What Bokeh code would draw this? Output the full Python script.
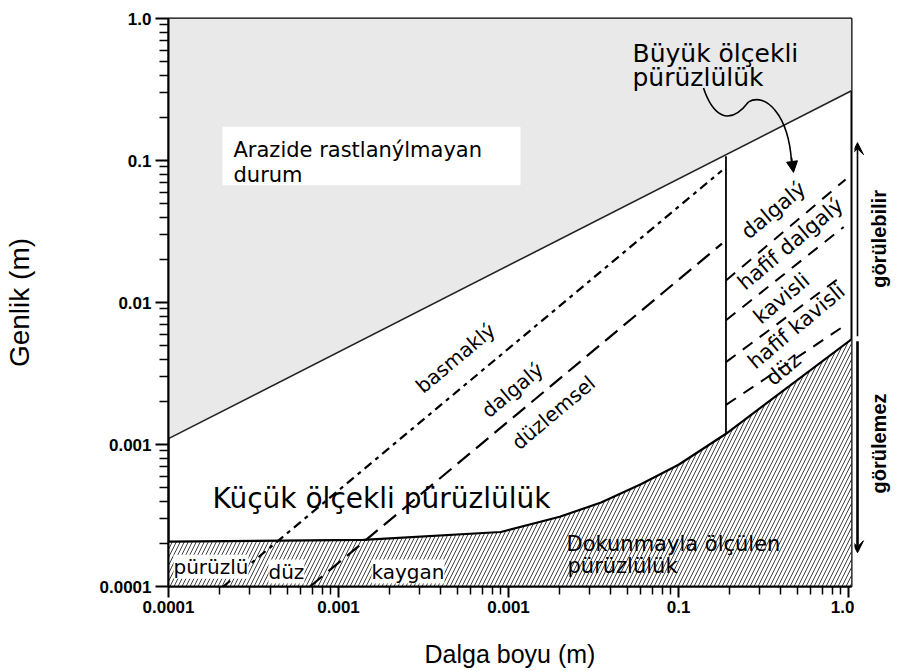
import math
from bokeh.plotting import figure
from bokeh.layouts import row
from bokeh.models import (Range1d, FixedTicker, CustomJSTickFormatter, Label, Arrow,
                          VeeHead, NormalHead, BoxAnnotation)
from bokeh.embed import file_html
from bokeh.resources import INLINE

# ---------------- data ----------------
x_ticks = [1e-4, 1e-3, 1e-2, 1e-1, 1.0]
x_tick_labels = ["0.0001", "0.001", "0.001", "0.1", "1.0"]
y_ticks = [1e-4, 1e-3, 1e-2, 1e-1, 1.0]
y_tick_labels = ["0.0001", "0.001", "0.01", "0.1", "1.0"]

# upper limit (region not met in the field)
limit_x = [1e-4, 1.04]
limit_y = [0.0011, 0.31]

# lower limit (roughness measured by touch)
touch_x = [1e-4, 0.0014, 0.009, 0.02, 0.035, 0.06, 0.1, 0.19, 1.04]
touch_y = [0.000207, 0.000213, 0.000242, 0.00031, 0.00039, 0.000525, 0.00072, 0.00119, 0.0055]

# divider between small and large scale roughness
divider_x = [0.19, 0.19]
divider_y = [0.00119, 0.107]

# small-scale class boundaries
basamakli_x = [0.00021, 0.18]
basamakli_y = [0.0001, 0.085]
dalgali_x = [0.00068, 0.18]
dalgali_y = [0.0001, 0.026]

# large-scale class boundaries
large_x = [[0.19, 0.96], [0.19, 0.935], [0.19, 0.935], [0.19, 0.9]]
large_y = [[0.0143, 0.0736], [0.0075, 0.034], [0.0038, 0.0157], [0.0019, 0.0066]]

# ---------------- layout ----------------
X_START, X_END = 1e-4, 1.04
Y_START, Y_END = 1e-4, 1.0
W, H = 854, 670
BL, BR, BT, BB = 168, 3, 18, 80
FW, FH = W - BL - BR, H - BT - BB
W2 = 900 - W


def px2x(px):
    f = (px - BL) / FW
    return 10 ** (math.log10(X_START) + f * (math.log10(X_END) - math.log10(X_START)))


def py2y(py):
    f = (py - BT) / FH
    return 10 ** (math.log10(Y_END) - f * (math.log10(Y_END) - math.log10(Y_START)))


def px2u(px):
    return (px - W) / W2


p = figure(width=W, height=H, x_axis_type="log", y_axis_type="log",
           x_range=Range1d(X_START, X_END), y_range=Range1d(Y_START, Y_END),
           output_backend="svg", toolbar_location=None,
           min_border_left=BL, min_border_right=BR, min_border_top=BT, min_border_bottom=BB)
p.grid.visible = False
p.outline_line_color = "black"
p.outline_line_width = 2
p.background_fill_color = "white"

minor = [m * 10 ** k for k in range(-4, 0) for m in range(2, 10)]
for ax, ticks, labels in ((p.xaxis[0], x_ticks, x_tick_labels), (p.yaxis[0], y_ticks, y_tick_labels)):
    ax.ticker = FixedTicker(ticks=ticks, minor_ticks=minor)
    ax.formatter = CustomJSTickFormatter(args=dict(labels=labels),
                                         code="return labels[Math.round(Math.log10(tick)) + 4];")
    ax.axis_line_width = 2
    ax.major_tick_line_width = 2
    ax.minor_tick_line_width = 1.5
    ax.major_tick_in = 0
    ax.minor_tick_in = 0
    ax.major_label_text_font = "Liberation Sans"
    ax.major_label_text_font_style = "bold"
    ax.major_label_text_font_size = "17px"
    ax.major_label_text_color = "black"
    ax.axis_label_text_font = "Liberation Sans"
    ax.axis_label_text_font_style = "normal"
    ax.axis_label_text_color = "black"

p.yaxis.major_tick_out = 13
p.yaxis.minor_tick_out = 9
p.yaxis.major_label_standoff = 4
p.yaxis.axis_label = "Genlik (m)"
p.yaxis.axis_label_text_font_size = "28px"
p.yaxis.axis_label_standoff = 62

p.xaxis.major_tick_out = 11
p.xaxis.minor_tick_out = 8
p.xaxis.major_label_standoff = 3
p.xaxis.axis_label = "Dalga boyu (m)"
p.xaxis.axis_label_text_font_size = "25px"
p.xaxis.axis_label_standoff = 24

# gray region
p.patch(x=limit_x + [X_END, X_START], y=limit_y + [Y_END, Y_END],
        fill_color="#e9e9e9", line_color=None)
p.line(limit_x, limit_y, line_color="#222222", line_width=1.6)

# hatched region
p.patch(x=touch_x + [X_END, X_START], y=touch_y + [Y_START, Y_START],
        fill_color="white", line_color=None, hatch_pattern="/", hatch_color="black",
        hatch_weight=0.75, hatch_scale=8)
p.line(touch_x, touch_y, line_color="black", line_width=2.2)

# divider
p.line(divider_x, divider_y, line_color="black", line_width=1.8)

# small-scale lines
p.line(basamakli_x, basamakli_y, line_color="black", line_width=2.2, line_dash="9 5 4 5")
p.line(dalgali_x, dalgali_y, line_color="black", line_width=2.2, line_dash="16 8")

# large-scale lines
for lx, ly in zip(large_x, large_y):
    p.line(lx, ly, line_color="black", line_width=2, line_dash="12 9")

# curly arrow
p.bezier(x0=[px2x(703)], y0=[py2y(88)], x1=[px2x(748)], y1=[py2y(102)],
         cx0=[px2x(712)], cy0=[py2y(115)], cx1=[px2x(728)], cy1=[py2y(128)],
         line_color="black", line_width=1.6)
p.bezier(x0=[px2x(748)], y0=[py2y(102)], x1=[px2x(791)], y1=[py2y(162)],
         cx0=[px2x(765)], cy0=[py2y(92)], cx1=[px2x(788)], cy1=[py2y(115)],
         line_color="black", line_width=1.6)
p.add_layout(Arrow(end=NormalHead(size=11, fill_color="black", line_color="black"),
                   x_start=px2x(791), y_start=py2y(158), x_end=px2x(793), y_end=py2y(173),
                   line_color="black", line_width=1.6))

# white box
p.add_layout(BoxAnnotation(left=px2x(222), right=px2x(520), top=py2y(127), bottom=py2y(186),
                           fill_color="white", fill_alpha=1.0, line_color=None))


def lab(fig, text, x, y, size, angle=0, font="DejaVu Sans", style="normal",
        align="left", baseline="alphabetic", bg=None):
    kw = dict(x=x, y=y, text=text, text_font=font, text_font_size=f"{size}px",
              text_font_style=style, angle=angle, angle_units="deg", text_align=align,
              text_baseline=baseline, text_color="black")
    if bg:
        kw.update(background_fill_color=bg, background_fill_alpha=1.0)
    fig.add_layout(Label(**kw))


def plab(text, px, py, size, **kw):
    lab(p, text, px2x(px), py2y(py), size, **kw)


plab("Arazide rastlanýlmayan", 233, 150, 21)
plab("durum", 233, 176, 21)
plab("Büyük ölçekli", 632, 53, 25)
plab("pürüzlülük", 632, 77, 25)
plab("Küçük ölçekli pürüzlülük", 212, 501, 28)
plab("Dokunmayla ölçülen", 566, 547, 21)
plab("pürüzlülük", 567, 569, 21)
plab("pürüzlü", 173, 570, 20, bg="white")
plab("düz", 268, 575, 20, bg="white")
plab("kaygan", 371, 575, 20, bg="white")

for text, px, py in (("basmaklý", 455, 360), ("dalgalý", 512, 392), ("düzlemsel", 553, 415)):
    plab(text, px, py, 20, angle=40, align="center", baseline="middle")
for text, px, py in (("dalgalý", 773, 211), ("hafif dalgalý", 790, 245), ("kavisli", 781, 300),
                     ("hafif kavisli", 796, 328), ("düz", 783, 371)):
    plab(text, px, py, 21, angle=40, align="center", baseline="middle")

# ---------------- right strip (visibility arrows) ----------------
p2 = figure(width=W2, height=H, y_axis_type="log",
            x_range=Range1d(0, 1), y_range=p.y_range,
            output_backend="svg", toolbar_location=None,
            min_border_left=0, min_border_right=0, min_border_top=BT, min_border_bottom=BB)
p2.axis.visible = False
p2.grid.visible = False
p2.outline_line_color = None

p2.add_layout(Arrow(end=VeeHead(size=12, fill_color="black", line_color="black"),
                    x_start=px2u(857), y_start=py2y(338), x_end=px2u(857), y_end=py2y(143),
                    line_color="black", line_width=1.6))
p2.add_layout(Arrow(end=VeeHead(size=12, fill_color="black", line_color="black"),
                    x_start=px2u(857), y_start=py2y(343), x_end=px2u(857), y_end=py2y(556),
                    line_color="black", line_width=2.6))
lab(p2, "görülebilir", px2u(878), py2y(240), 20, angle=90, font="Liberation Sans", style="bold",
    align="center", baseline="middle")
lab(p2, "görülemez", px2u(878), py2y(446), 20, angle=90, font="Liberation Sans", style="bold",
    align="center", baseline="middle")

layout = row(p, p2, spacing=0)
open("out.html", "w").write(file_html(layout, INLINE))
